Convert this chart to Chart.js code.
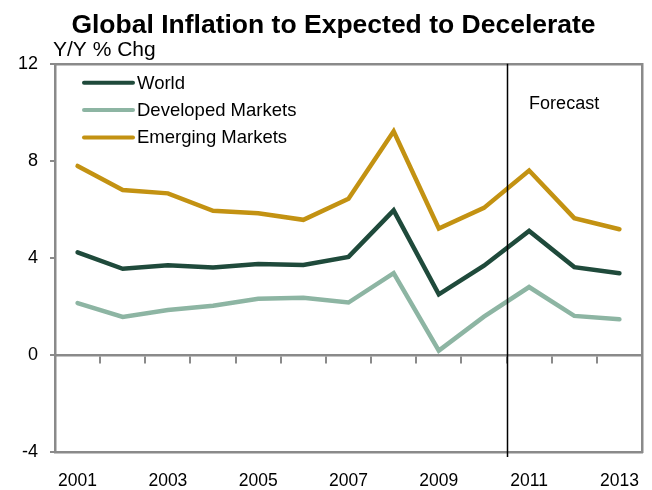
<!DOCTYPE html>
<html>
<head>
<meta charset="utf-8">
<script src="https://cdn.jsdelivr.net/npm/chart.js@4.4.1/dist/chart.umd.min.js"></script>
<style>
  html, body { margin: 0; padding: 0; background: #fff; }
  #wrap { width: 652px; height: 490px; }
</style>
</head>
<body>
<div id="wrap"><canvas id="inflation"></canvas></div>
<script>
// inflation, y/y % change
const years = ['2001','2002','2003','2004','2005','2006','2007','2008','2009','2010','2011','2012','2013'];
const world = [4.23, 3.55, 3.70, 3.60, 3.75, 3.71, 4.04, 5.96, 2.50, 3.68, 5.11, 3.62, 3.37];
const developed = [2.14, 1.57, 1.85, 2.03, 2.32, 2.36, 2.16, 3.37, 0.18, 1.58, 2.80, 1.61, 1.47];
const emerging = [7.79, 6.80, 6.66, 5.94, 5.84, 5.57, 6.44, 9.22, 5.21, 6.06, 7.60, 5.64, 5.18];
const yTicks = [-4, 0, 4, 8, 12];
const forecastFrom = '2011';

const FONT = 'Arial, "Liberation Sans", sans-serif';
const GRAY = '#8a8a8a';
const colors = { world: '#1f4a3b', developed: '#8db5a3', emerging: '#c39212' };

// forecast divider, units label and the legend rows
const extras = {
  id: 'extras',
  afterDatasetsDraw(chart) {
    const { ctx, chartArea: a, scales } = chart;
    ctx.save();

    // divider sits on the boundary before the first forecast year
    const idx = years.indexOf(forecastFrom);
    const fx = Math.round(scales.x.getPixelForValue(idx - 0.5)) + 0.5;
    ctx.strokeStyle = '#000';
    ctx.lineWidth = 1.5;
    ctx.beginPath();
    ctx.moveTo(fx, a.top);
    ctx.lineTo(fx, a.bottom + 5);
    ctx.stroke();

    ctx.fillStyle = '#000';
    ctx.font = '18px ' + FONT;
    ctx.textBaseline = 'alphabetic';
    ctx.textAlign = 'left';
    ctx.fillText('Forecast', scales.x.getPixelForValue(idx), 109);

    ctx.font = '21px ' + FONT;
    ctx.fillText('Y/Y % Chg', a.left - 2, a.top - 8);

    ctx.font = '18.5px ' + FONT;
    ctx.textBaseline = 'middle';
    ctx.lineCap = 'round';
    chart.data.datasets.forEach((ds, i) => {
      const y = a.top + 19 + i * 27.3;
      ctx.strokeStyle = ds.borderColor;
      ctx.lineWidth = 4;
      ctx.beginPath();
      ctx.moveTo(a.left + 29, y);
      ctx.lineTo(a.left + 78, y);
      ctx.stroke();
      ctx.fillText(ds.label, a.left + 82, y + 1);
    });
    ctx.restore();
  }
};

const series = (label, data, color) => ({
  label, data,
  borderColor: color,
  backgroundColor: color,
  borderWidth: 4.5,
  borderCapStyle: 'round',
  borderJoinStyle: 'miter',
  pointRadius: 0,
  tension: 0,
  fill: false
});

const frameEdge = { display: true, color: GRAY, width: 2.5 };

new Chart(document.getElementById('inflation'), {
  type: 'line',
  data: {
    labels: years,
    datasets: [
      series('World', world, colors.world),
      series('Developed Markets', developed, colors.developed),
      series('Emerging Markets', emerging, colors.emerging)
    ]
  },
  options: {
    responsive: true,
    maintainAspectRatio: false,
    animation: false,
    layout: { padding: { left: 15, right: 0, top: 0, bottom: 0 } },
    plugins: {
      legend: { display: false },
      tooltip: { enabled: false },
      title: {
        display: true,
        text: 'Global Inflation to Expected to Decelerate',
        color: '#000',
        font: { family: FONT, size: 26.5, weight: 'bold', lineHeight: 1.2 },
        padding: { top: 10, bottom: 22 }
      }
    },
    scales: {
      x: {
        type: 'category',
        offset: true,
        grid: { display: false, drawTicks: false },
        border: frameEdge,
        afterFit: (s) => { s.height = 38; s.paddingLeft = 0; s.paddingRight = 0; },
        ticks: {
          autoSkip: false,
          maxRotation: 0,
          padding: 19,
          color: '#000',
          font: { family: FONT, size: 17.5 },
          callback: (v, i) => (i % 2 === 0 ? years[i] : '')
        }
      },
      // zero line with its tick marks
      x0: {
        type: 'category',
        position: { y: 0 },
        offset: true,
        grid: { offset: true, drawOnChartArea: false, drawTicks: true, tickLength: 7, color: GRAY, lineWidth: 2 },
        border: frameEdge,
        ticks: { display: false }
      },
      // top edge of the frame
      xTop: {
        type: 'category',
        position: 'top',
        grid: { display: false, drawTicks: false },
        border: frameEdge,
        ticks: { display: false },
        afterFit: (s) => { s.height = 0; }
      },
      y: {
        min: -4,
        max: 12,
        afterBuildTicks: (s) => { s.ticks = yTicks.map(v => ({ value: v })); },
        afterFit: (s) => { s.width = 40; },
        grid: { drawOnChartArea: false, drawTicks: true, tickLength: 5, color: GRAY, lineWidth: 2 },
        border: frameEdge,
        ticks: { padding: 12, color: '#000', font: { family: FONT, size: 18 } }
      },
      // right edge of the frame
      yRight: {
        position: 'right',
        min: -4,
        max: 12,
        grid: { display: false, drawTicks: false },
        border: frameEdge,
        ticks: { display: false },
        afterFit: (s) => { s.width = 10; }
      }
    }
  },
  plugins: [extras]
});
</script>
</body>
</html>
